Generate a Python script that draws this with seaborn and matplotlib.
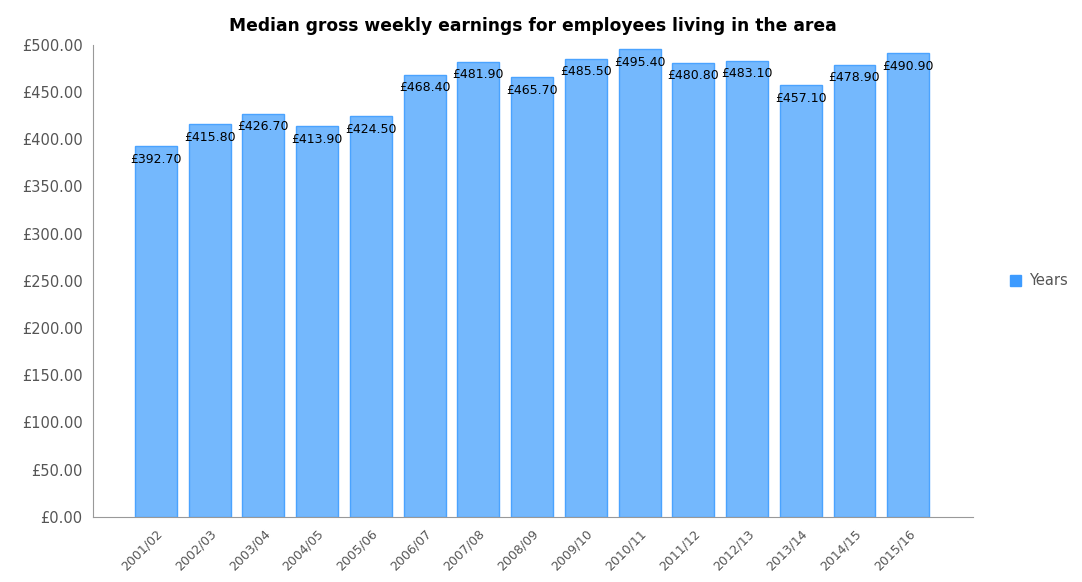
import matplotlib
matplotlib.use("Agg")
import pandas as pd
import matplotlib.pyplot as plt
import seaborn as sns
from matplotlib.ticker import FuncFormatter

# ==========================================================
# Data
# ==========================================================

years = ["2001/02", "2002/03", "2003/04", "2004/05", "2005/06",
         "2006/07", "2007/08", "2008/09", "2009/10", "2010/11",
         "2011/12", "2012/13", "2013/14", "2014/15", "2015/16"]
earnings = [392.70, 415.80, 426.70, 413.90, 424.50,
            468.40, 481.90, 465.70, 485.50, 495.40,
            480.80, 483.10, 457.10, 478.90, 490.90]
series = ["Years"] * len(years)

df = pd.DataFrame({"Year": years, "Earnings": earnings, "Series": series})

# ==========================================================
# Plot
# ==========================================================

sns.set_style("white")
plt.rcParams["font.family"] = ["DejaVu Sans"]

fig = plt.figure(figsize=(10.82, 5.82), dpi=100)
ax = fig.add_axes([0.086, 0.112, 0.813, 0.811])

sns.barplot(
    data=df, x="Year", y="Earnings", hue="Series",
    palette=["#74b8fd"], saturation=1, width=0.78,
    edgecolor="#4aa3ff", linewidth=1.0, ax=ax
)

for cont in ax.containers:
    ax.bar_label(cont, labels=[f"£{v:.2f}" for v in earnings],
                 padding=-14, fontsize=9, color="black")

ax.set_ylim(0, 500)
ax.set_xlim(-1.17, 15.2)
ax.set_yticks(range(0, 501, 50))
ax.yaxis.set_major_formatter(FuncFormatter(lambda v, p: f"£{v:.2f}"))

ax.set_xlabel("")
ax.set_ylabel("")
ax.set_title("Median gross weekly earnings for employees living in the area",
             fontsize=12.3, fontweight="bold", color="black", pad=10)

plt.setp(ax.get_xticklabels(), rotation=45, ha="right",
         rotation_mode="anchor", fontsize=9, color="#555555")
plt.setp(ax.get_yticklabels(), fontsize=10.5, color="#555555")

sns.despine(ax=ax)
for s in ["left", "bottom"]:
    ax.spines[s].set_color("#999999")
ax.tick_params(axis="both", direction="out", length=4, color="#999999")

sns.move_legend(ax, "center left", bbox_to_anchor=(1.042, 0.5),
                title=None, frameon=False, fontsize=10.5,
                handlelength=0.8, handleheight=0.8, handletextpad=0.5,
                borderpad=0, borderaxespad=0)
leg = ax.get_legend()
for t in leg.get_texts():
    t.set_color("#555555")
for h in leg.legend_handles:
    h.set_facecolor("#3d9bff")
    h.set_edgecolor("#3d9bff")

plt.savefig("out.png", dpi=100)
